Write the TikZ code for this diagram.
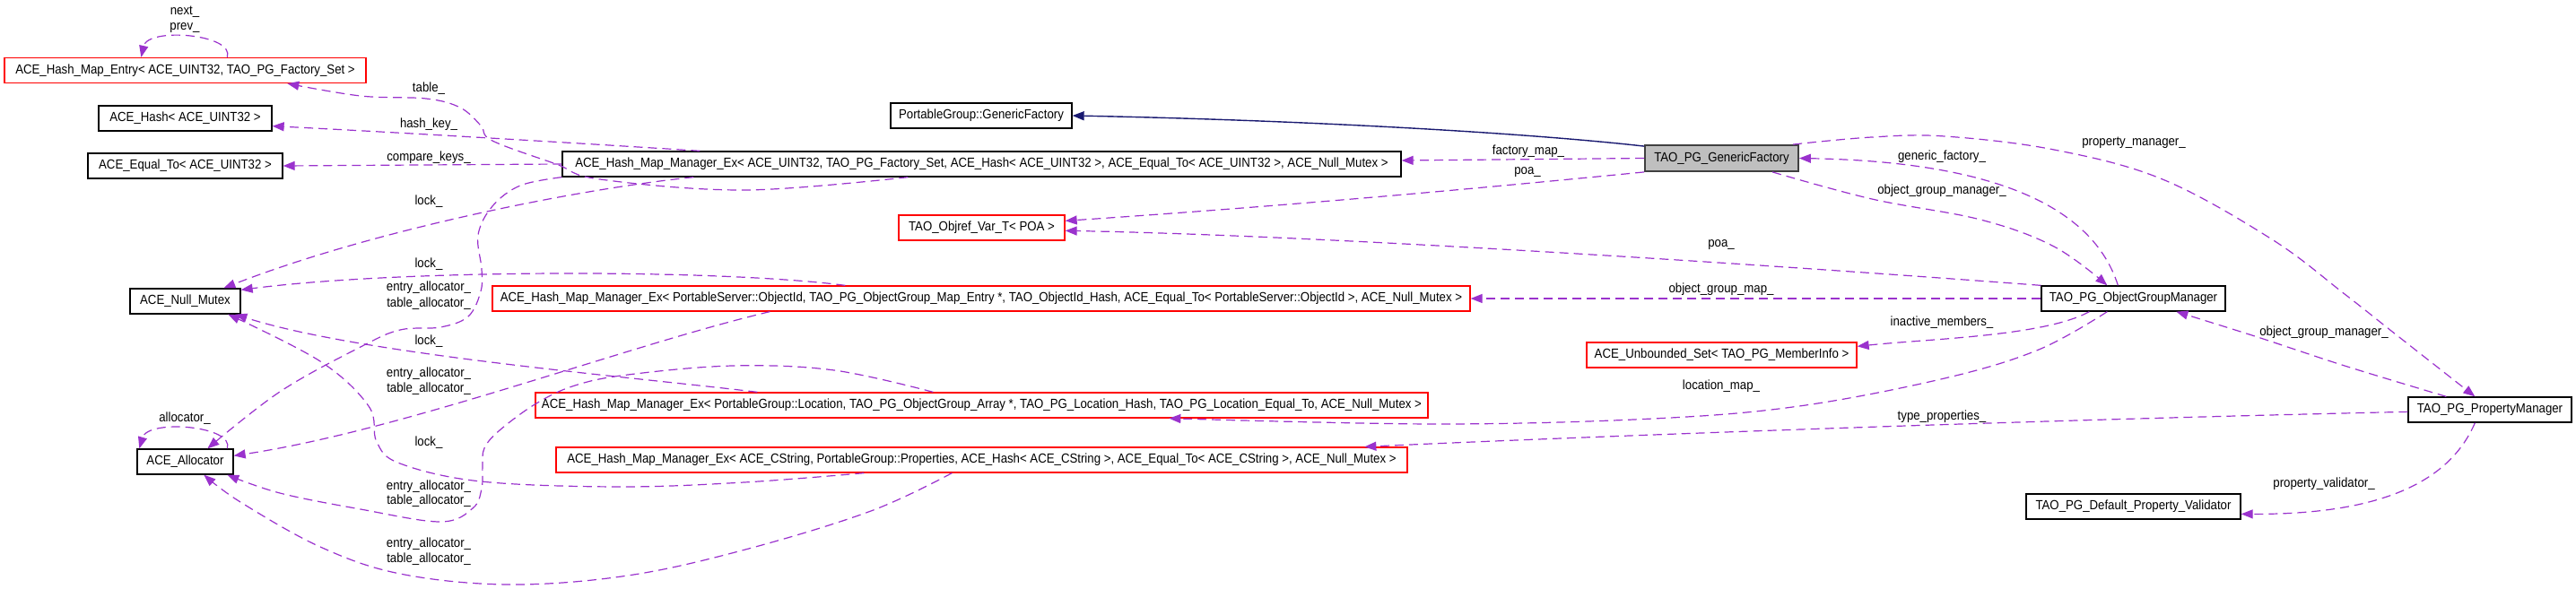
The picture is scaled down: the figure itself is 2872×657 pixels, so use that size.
\documentclass[tikz,border=0pt]{standalone}
\usepackage{fontspec}
\setmainfont[FakeStretch=0.9]{Liberation Sans}
\usetikzlibrary{arrows.meta,calc}
\definecolor{usec}{HTML}{9A32CD}
\definecolor{inhc}{HTML}{191970}
\definecolor{redb}{HTML}{FF0000}
\definecolor{mainfill}{HTML}{BFBFBF}
\begin{document}
\begin{tikzpicture}[x=0.5pt,y=-0.5pt,font=\fontsize{7.35}{8.5}\selectfont,
  box/.style={draw=black,line width=0.65pt,minimum height=14pt,inner sep=0pt,fill=white},
  rbox/.style={box,draw=redb},
  use/.style={draw=usec,line width=0.6pt,dash pattern=on 5pt off 3pt,-{Triangle[length=6.5pt,width=5pt]}},
  inh/.style={draw=inhc,line width=0.7pt,-{Triangle[length=6.5pt,width=5pt]}},
  lbl/.style={inner sep=0pt}]
\useasboundingbox (0,0) rectangle (2872,657);
% nodes
\node[rbox,minimum width=201.5pt] (entry) at (206.5,78.5) {ACE\_Hash\_Map\_Entry< ACE\_UINT32, TAO\_PG\_Factory\_Set >};
\node[box,minimum width=96.5pt] (hash) at (206.5,132) {ACE\_Hash< ACE\_UINT32 >};
\node[box,minimum width=108.5pt] (equal) at (206.5,185) {ACE\_Equal\_To< ACE\_UINT32 >};
\node[box,minimum width=61.5pt] (mutex) at (206.5,336) {ACE\_Null\_Mutex};
\node[box,minimum width=53.5pt] (alloc) at (206.5,515) {ACE\_Allocator};
\node[box,minimum width=467.5pt] (mgr32) at (1094.5,183) {ACE\_Hash\_Map\_Manager\_Ex< ACE\_UINT32, TAO\_PG\_Factory\_Set, ACE\_Hash< ACE\_UINT32 >, ACE\_Equal\_To< ACE\_UINT32 >, ACE\_Null\_Mutex >};
\node[box,minimum width=101pt] (pggf) at (1094,129) {PortableGroup::GenericFactory};
\node[rbox,minimum width=92.5pt] (objref) at (1094.5,254) {TAO\_Objref\_Var\_T< POA >};
\node[rbox,minimum width=545pt] (mgroid) at (1094,333) {ACE\_Hash\_Map\_Manager\_Ex< PortableServer::ObjectId, TAO\_PG\_ObjectGroup\_Map\_Entry *, TAO\_ObjectId\_Hash, ACE\_Equal\_To< PortableServer::ObjectId >, ACE\_Null\_Mutex >};
\node[rbox,minimum width=497.5pt] (mgrloc) at (1094.5,452) {ACE\_Hash\_Map\_Manager\_Ex< PortableGroup::Location, TAO\_PG\_ObjectGroup\_Array *, TAO\_PG\_Location\_Hash, TAO\_PG\_Location\_Equal\_To, ACE\_Null\_Mutex >};
\node[rbox,minimum width=474.5pt] (mgrstr) at (1094.5,513) {ACE\_Hash\_Map\_Manager\_Ex< ACE\_CString, PortableGroup::Properties, ACE\_Hash< ACE\_CString >, ACE\_Equal\_To< ACE\_CString >, ACE\_Null\_Mutex >};
\node[box,fill=mainfill,draw=black!75,line width=0.9pt,minimum width=85.5pt,minimum height=14.5pt] (gf) at (1919.5,176.5) {TAO\_PG\_GenericFactory};
\node[box,minimum width=102.5pt] (ogm) at (2378.5,333) {TAO\_PG\_ObjectGroupManager};
\node[rbox,minimum width=150.5pt] (uset) at (1919.5,396) {ACE\_Unbounded\_Set< TAO\_PG\_MemberInfo >};
\node[box,minimum width=91pt] (pm) at (2776,457) {TAO\_PG\_PropertyManager};
\node[box,minimum width=119.5pt] (val) at (2378.5,565) {TAO\_PG\_Default\_Property\_Validator};
% inheritance
\draw[inh] ($(gf.north west)+(0,2)$) .. controls (1700,148) and (1450,134) .. (pggf.east);
% right side
\draw[use] (gf.west) -- ($(mgr32.east)+(0,-4)$);
\draw[use] (gf.south west) .. controls (1600,215) and (1400,232) .. ($(objref.north east)+(0,7)$);
\draw[use] (ogm.north west) .. controls (1900,290) and (1450,262) .. ($(objref.north east)+(0,18)$);
\draw[use] ($(ogm.north west)+(86,0)$) .. controls (2330,220) and (2200,180) .. (gf.east);
\draw[use] plot[smooth,tension=0.6] coordinates {($(gf.south west)+(143,0)$) (2087,222) (2208,245) (2290,275) ($(ogm.north west)+(74,0)$)};
\draw[use] plot[smooth,tension=0.6] coordinates {($(gf.north west)+(166,0)$) (2087,153) (2168,152) (2290,167) (2411,200) (2533,267) (2614,328) (2671,373) ($(pm.north west)+(75,0)$)};
\draw[use] plot[smooth,tension=0.6] coordinates {($(pm.north west)+(43,0)$) (2614,408) (2517,376) ($(ogm.south west)+(151,0)$)};
\draw[use] (ogm.west) -- (mgroid.east);
\draw[use] ($(ogm.south west)+(54,0)$) .. controls (2280,375) and (2150,378) .. ($(uset.north east)+(0,5)$);
\draw[use] plot[smooth,tension=0.6] coordinates {($(ogm.south west)+(74,0)$) (2273,390) (2168,422) (2006,453) (1843,467) (1600,473) ($(mgrloc.south west)+(707,0)$)};
\draw[use] ($(pm.north west)+(0,17)$) .. controls (2200,470) and (1700,490) .. ($(mgrstr.north west)+(902,0)$);
\draw[use] ($(pm.south west)+(75,0)$) .. controls (2730,540) and (2650,574) .. ($(val.north east)+(0,23)$);
% left side
\draw[use] plot[smooth,tension=0.6] coordinates {($(mgr32.south west)+(386,0)$) (831,212) (669,200) (620,183) (549,157) (536,140) (513,120) (475,110) (402,107) ($(entry.south west)+(316,0)$)};
\draw[use] ($(mgr32.north west)+(154,0)$) .. controls (650,160) and (450,148) .. ($(hash.south east)+(0,-6)$);
\draw[use] (mgr32.west) -- (equal.east);
\draw[use] ($(mgr32.south west)+(147,0)$) .. controls (650,210) and (420,255) .. ($(mutex.north west)+(105,0)$);
\draw[use] plot[smooth,tension=0.6] coordinates {(mgr32.south west) (580,207) (549,230) (533,262) (537,300) (536,325) (522,353) (491,365) (446,368) (402,387) (312,437) ($(alloc.north west)+(79,0)$)};
\draw[use] ($(mgroid.north west)+(394,0)$) .. controls (800,300) and (450,300) .. ($(mutex.north east)+(0,2)$);
\draw[use] ($(mgroid.south west)+(310,0)$) .. controls (700,385) and (450,480) .. ($(alloc.north east)+(0,8)$);
\draw[use] ($(mgrloc.north west)+(248,0)$) .. controls (700,420) and (400,395) .. ($(mutex.south west)+(118,0)$);
\draw[use] plot[smooth,tension=0.6] coordinates {($(mgrloc.north west)+(444,0)$) (930,413) (817,408) (700,418) (641,430) (598,450) (557,480) (540,500) (538,520) (537,545) (527,567) (491,582) (402,568) (312,550) ($(alloc.south west)+(101,0)$)};
\draw[use] plot[smooth,tension=0.6] coordinates {($(mgrstr.south west)+(344,0)$) (830,538) (690,543) (536,537) (446,517) (420,493) (411,453) (357,403) ($(mutex.south west)+(110,0)$)};
\draw[use] plot[smooth,tension=0.6] coordinates {($(mgrstr.south west)+(442,0)$) (971,570) (831,613) (700,642) (567,652) (446,640) (357,610) (268,560) ($(alloc.south west)+(75,0)$)};
% self loops
\draw[use] ($(entry.north west)+(249,0)$) .. controls (262,38) and (165,30) .. ($(entry.north west)+(153,0)$);
\draw[use] ($(alloc.north west)+(101,0)$) .. controls (262,475) and (165,467) .. ($(alloc.north west)+(3,0)$);
% labels
\node[lbl] (l1) at (206,13) {next\_};
\node[lbl] (l2) at (206,31) {prev\_};
\node[lbl] (l3) at (478,99) {table\_};
\node[lbl] (l4) at (478,139) {hash\_key\_};
\node[lbl] (l5) at (478,176) {compare\_keys\_};
\node[lbl] (l6) at (478,225) {lock\_};
\node[lbl] (l7) at (478,295) {lock\_};
\node[lbl] (l8) at (478,321) {entry\_allocator\_};
\node[lbl] (l9) at (478,339) {table\_allocator\_};
\node[lbl] (l10) at (478,381) {lock\_};
\node[lbl] (l11) at (478,417) {entry\_allocator\_};
\node[lbl] (l12) at (478,434) {table\_allocator\_};
\node[lbl] (l13) at (206,467) {allocator\_};
\node[lbl] (l14) at (478,494) {lock\_};
\node[lbl] (l15) at (478,543) {entry\_allocator\_};
\node[lbl] (l16) at (478,559) {table\_allocator\_};
\node[lbl] (l17) at (478,607) {entry\_allocator\_};
\node[lbl] (l18) at (478,624) {table\_allocator\_};
\node[lbl] (l19) at (1704,169) {factory\_map\_};
\node[lbl] (l20) at (1703,192) {poa\_};
\node[lbl] (l21) at (2379,159) {property\_manager\_};
\node[lbl] (l22) at (2165,175) {generic\_factory\_};
\node[lbl] (l23) at (2165,213) {object\_group\_manager\_};
\node[lbl] (l24) at (1919,273) {poa\_};
\node[lbl] (l25) at (1919,323) {object\_group\_map\_};
\node[lbl] (l26) at (2165,360) {inactive\_members\_};
\node[lbl] (l27) at (1919,431) {location\_map\_};
\node[lbl] (l28) at (2165,465) {type\_properties\_};
\node[lbl] (l29) at (2591,371) {object\_group\_manager\_};
\node[lbl] (l30) at (2591,540) {property\_validator\_};
\end{tikzpicture}
\end{document}
